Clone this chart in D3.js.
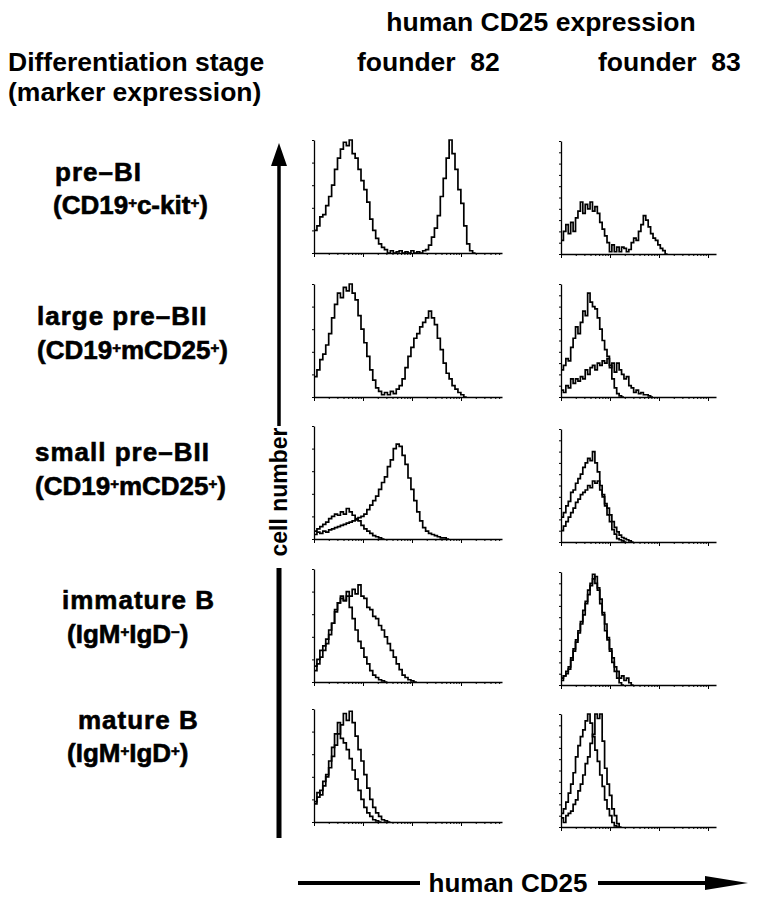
<!DOCTYPE html>
<html>
<head>
<meta charset="utf-8">
<script src="https://cdn.jsdelivr.net/npm/d3@7"></script>
<style>
  body { margin: 0; background: #fff; }
  svg { display: block; font-family: "Liberation Sans", Arial, sans-serif; font-weight: bold; }
</style>
</head>
<body>
<svg id="chart" width="766" height="899"></svg>
<script>

// Row labels (^ marks the next character as superscript)
var stages = ["pre\u2013BI", "large pre\u2013BII", "small pre\u2013BII", "immature B", "mature B"];
var markers = ["(CD19^+c-kit^+)", "(CD19^+mCD25^+)", "(CD19^+mCD25^+)", "(IgM^+IgD^\u2212)", "(IgM^+IgD^+)"];
var founders = ["founder  82", "founder  83"];

// Histogram counts, one value per channel bin (64 bins across the log axis), % of panel height
var preBI_82 = [20, 24, 32, 34, 42, 50, 60, 74, 84, 92, 98, 95, 100, 88, 84, 74, 64, 56, 45, 30, 20, 13, 8, 5, 3,
    0, 2, 0, 1, 2, 0, 1, 0, 2, 0, 1, 0, 2, 3, 7, 14, 22, 33, 50, 66, 84, 100, 88, 74, 56, 44, 24, 8, 2, 0];
var preBI_83 = [12, 20, 26, 18, 28, 20, 32, 38, 46, 36, 44, 40, 46, 38, 42, 36, 28, 22, 16, 10, 2, 8, 2, 6, 2,
    6, 5, 2, 4, 10, 14, 12, 20, 26, 34, 30, 24, 18, 14, 12, 8, 5, 3, 0];

var largePreBII_82 = [18, 24, 33, 38, 46, 56, 70, 82, 92, 88, 97, 94, 100, 92, 86, 72, 60, 48, 36, 24, 15, 8, 5, 2, 4,
    2, 5, 3, 7, 10, 16, 26, 36, 44, 52, 56, 62, 66, 70, 76, 70, 64, 52, 42, 30, 21, 16, 10, 7, 4, 2, 0];
var largePreBII_83a = [24, 28, 34, 32, 44, 52, 62, 56, 66, 76, 72, 92, 84, 80, 78, 70, 60, 50, 42, 36, 28, 16, 8, 3, 1, 0];
var largePreBII_83b = [6, 4, 10, 8, 16, 12, 16, 14, 18, 16, 24, 20, 26, 28, 24, 30, 28, 32, 30, 34, 26, 30, 22, 30, 24,
    20, 16, 18, 10, 8, 4, 6, 3, 4, 2, 2, 1, 0];

var smallPreBII_82a = [4, 6, 5, 7, 6, 8, 9, 10, 11, 12, 13, 14, 15, 16, 17, 19, 20, 22, 26, 30, 34, 38, 44, 50, 55,
    64, 70, 80, 84, 82, 74, 66, 54, 44, 34, 24, 16, 10, 7, 5, 4, 3, 2, 1, 1, 0];
var smallPreBII_82b = [7, 9, 11, 13, 15, 18, 20, 22, 21, 24, 22, 27, 24, 21, 18, 16, 12, 9, 7, 5, 3, 2, 1, 0];
var smallPreBII_83a = [22, 26, 32, 36, 44, 46, 52, 56, 60, 66, 70, 74, 72, 80, 70, 62, 50, 40, 32, 24, 18, 11, 7, 3, 2, 1, 0];
var smallPreBII_83b = [10, 14, 18, 22, 26, 30, 35, 38, 42, 44, 46, 50, 48, 54, 52, 54, 46, 42, 34, 30, 24, 18, 13, 9, 6,
    4, 3, 2, 1, 0];

var immatureB_82a = [10, 16, 22, 28, 34, 42, 52, 62, 70, 74, 72, 76, 66, 56, 46, 36, 30, 22, 16, 10, 6, 4, 2, 1, 0];
var immatureB_82b = [14, 20, 28, 32, 38, 46, 52, 64, 70, 76, 72, 80, 76, 82, 78, 86, 76, 74, 66, 64, 58, 56, 50, 46, 40,
    34, 28, 22, 16, 11, 6, 4, 2, 1, 0];
var immatureB_83a = [6, 8, 12, 16, 24, 32, 40, 48, 56, 66, 74, 84, 90, 98, 90, 84, 72, 62, 48, 40, 30, 20, 12, 6, 2, 0];
var immatureB_83b = [4, 8, 10, 14, 22, 30, 38, 46, 54, 62, 72, 80, 88, 94, 96, 86, 76, 64, 54, 42, 32, 24, 16, 12, 6,
    8, 4, 6, 2, 0];

var matureB_82a = [18, 26, 24, 32, 40, 48, 58, 68, 78, 86, 96, 90, 98, 88, 76, 64, 54, 42, 30, 20, 13, 8, 5, 2, 1, 0];
var matureB_82b = [16, 22, 28, 36, 42, 54, 66, 78, 88, 74, 70, 64, 56, 46, 38, 28, 20, 13, 8, 5, 2, 1, 0];
var matureB_83a = [12, 16, 22, 30, 38, 48, 62, 72, 80, 86, 94, 100, 92, 80, 68, 58, 46, 36, 24, 16, 10, 4, 1, 0];
var matureB_83b = [8, 4, 10, 12, 14, 20, 24, 32, 38, 46, 56, 62, 74, 82, 100, 96, 100, 76, 52, 38, 28, 16, 10, 3, 0];

var panels = [
    [[preBI_82], [preBI_83]],
    [[largePreBII_82], [largePreBII_83a, largePreBII_83b]],
    [[smallPreBII_82a, smallPreBII_82b], [smallPreBII_83a, smallPreBII_83b]],
    [[immatureB_82a, immatureB_82b], [immatureB_83a, immatureB_83b]],
    [[matureB_82a, matureB_82b], [matureB_83a, matureB_83b]]
];

// Layout
var nBins = 64;
var colX = [314, 561];
var colW = [188, 155];
var decadePx = 49;
var panelH = 113;
var baseY = [[253, 397, 539, 682, 822], [254, 397, 542, 685, 827]];
var labelY = [[172, 205], [316, 350], [452, 486], [600, 634], [720, 753]];
var labelX = [[55, 53], [37, 37], [35, 35], [62, 67], [78, 67]];

var svg = d3.select("#chart");

// Writes a string with ^-marked superscripts into a text element
function richText(sel, str) {
    var parts = str.split(/(\^.)/);
    parts.forEach(function(p) {
        if (p === "") return;
        if (p[0] === "^") {
            sel.append("tspan").attr("font-size", 15).attr("baseline-shift", "42%").text(p[1]);
        } else {
            sel.append("tspan").text(p);
        }
    });
}

// Headings
svg.append("text")
    .attr("x", 541).attr("y", 31)
    .attr("text-anchor", "middle")
    .attr("font-size", 26.5)
    .text("human CD25 expression");

svg.append("text").attr("x", 8).attr("y", 71).attr("font-size", 26.5).text("Differentiation stage");
svg.append("text").attr("x", 8).attr("y", 101).attr("font-size", 26.5).text("(marker expression)");

founders.forEach(function(f, i) {
    svg.append("text")
        .attr("x", [357, 598][i]).attr("y", 71)
        .attr("font-size", 26.5)
        .style("white-space", "pre")
        .text(f);
});

// Row labels
stages.forEach(function(s, i) {
    svg.append("text")
        .attr("x", labelX[i][0]).attr("y", labelY[i][0] + 9)
        .attr("font-size", 26)
        .attr("stroke", "#000").attr("stroke-width", 0.6)
        .attr("letter-spacing", 1)
        .text(s);
    var t = svg.append("text")
        .attr("x", labelX[i][1]).attr("y", labelY[i][1] + 9)
        .attr("font-size", 26)
        .attr("stroke", "#000").attr("stroke-width", 0.6);
    richText(t, markers[i]);
});

// Histogram panels
panels.forEach(function(row, r) {
    row.forEach(function(curves, c) {
        var w = colW[c];
        var g = svg.append("g")
            .attr("transform", "translate(" + colX[c] + "," + (baseY[c][r] - panelH) + ")");

        var y = d3.scaleLinear().domain([0, 100]).range([panelH, 0]);
        var xBin = d3.scaleLinear().domain([0, nBins]).range([0, w]);
        var xLog = d3.scaleLog().domain([1, Math.pow(10, w / decadePx)]).range([0, w]);

        var logTicks = [];
        for (var k = 0; k < 4; k++) {
            for (var m = 1; m < 10; m++) {
                var v = m * Math.pow(10, k);
                if (v <= xLog.domain()[1]) logTicks.push(v);
            }
        }

        var yAxis = d3.axisLeft(y)
            .tickValues(d3.range(0, 101, c === 0 ? 20 : 10))
            .tickSize(2).tickSizeOuter(0).tickFormat("");
        var xAxis = d3.axisBottom(xLog)
            .tickValues(logTicks)
            .tickSize(2).tickSizeOuter(0).tickFormat("");

        g.append("g").attr("class", "yAxis").call(yAxis);
        g.append("g").attr("class", "xAxis")
            .attr("transform", "translate(0," + panelH + ")")
            .call(xAxis);
        g.selectAll(".xAxis .tick line")
            .attr("y2", function(d) { return Math.log10(d) % 1 === 0 ? 4 : 2; });
        g.selectAll(".domain").attr("stroke", "#000").attr("stroke-width", 1.3);

        var line = d3.line()
            .x(function(d, i) { return xBin(i); })
            .y(function(d) { return y(d); })
            .curve(d3.curveStepAfter);

        curves.forEach(function(counts) {
            g.append("path")
                .datum(counts.concat([0]))
                .attr("fill", "none")
                .attr("stroke", "#000")
                .attr("stroke-width", 1.7)
                .attr("d", line);
        });
    });
});

// "cell number" arrow
var cx = 279;
svg.append("line").attr("x1", cx).attr("x2", cx).attr("y1", 160).attr("y2", 426)
    .attr("stroke", "#000").attr("stroke-width", 3.5);
svg.append("path").attr("d", "M" + (cx - 8) + ",166 L" + cx + ",143 L" + (cx + 8) + ",166 Z");
svg.append("line").attr("x1", cx).attr("x2", cx).attr("y1", 568).attr("y2", 838)
    .attr("stroke", "#000").attr("stroke-width", 5);
svg.append("text")
    .attr("transform", "translate(" + (cx + 8) + ",492) rotate(-90)")
    .attr("text-anchor", "middle")
    .attr("font-size", 23)
    .text("cell number");

// "human CD25" arrow
var ay = 883;
svg.append("line").attr("x1", 298).attr("x2", 420).attr("y1", ay).attr("y2", ay)
    .attr("stroke", "#000").attr("stroke-width", 4);
svg.append("text")
    .attr("x", 508).attr("y", ay + 9)
    .attr("text-anchor", "middle")
    .attr("font-size", 26)
    .text("human CD25");
svg.append("line").attr("x1", 598).attr("x2", 715).attr("y1", ay).attr("y2", ay)
    .attr("stroke", "#000").attr("stroke-width", 4);
svg.append("path").attr("d", "M705," + (ay - 7) + " L748," + ay + " L705," + (ay + 7) + " Z");

</script>
</body>
</html>
